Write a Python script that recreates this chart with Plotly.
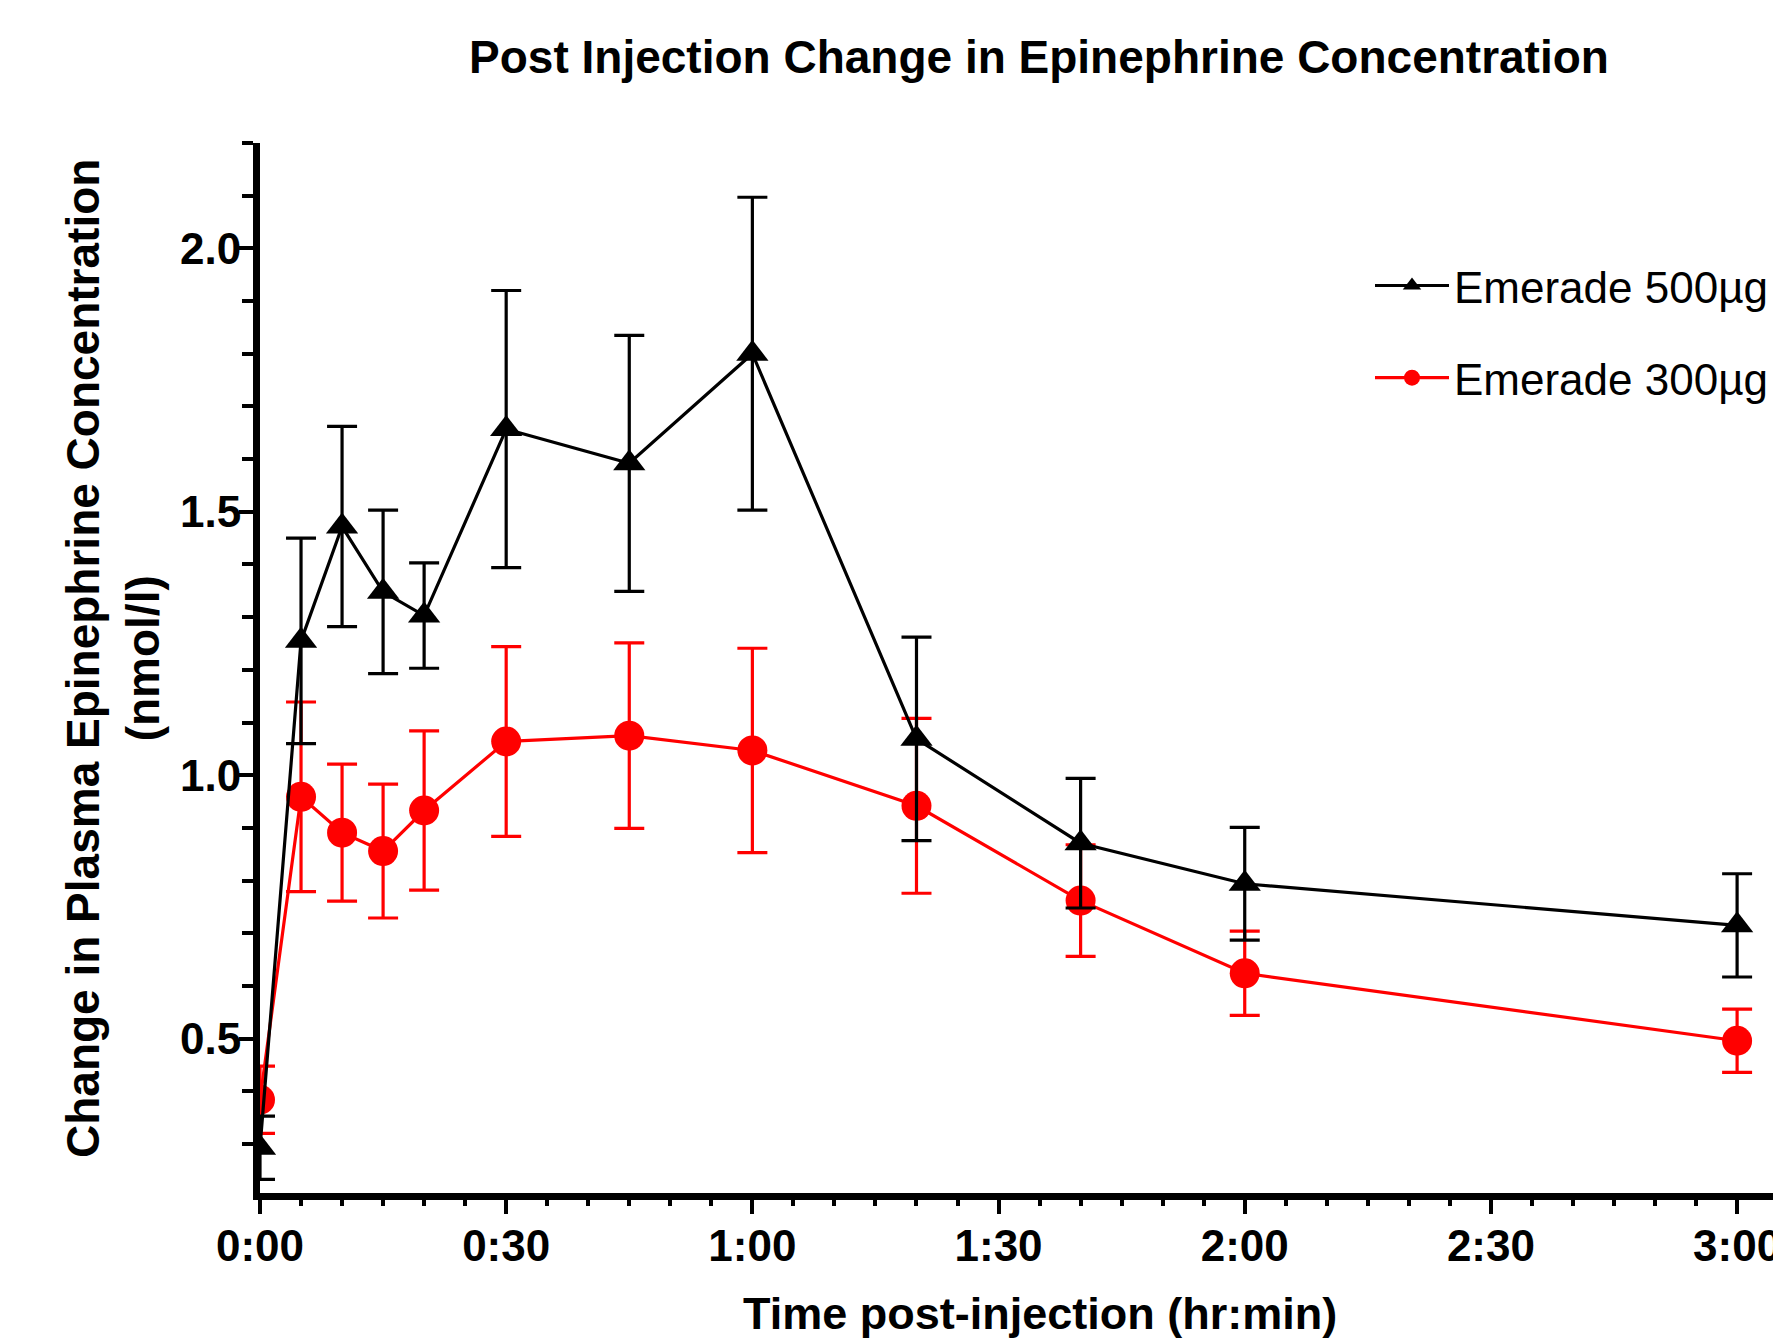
import plotly.graph_objects as go

# ---- data ----
time_min = [0, 5, 10, 15, 20, 30, 45, 60, 80, 100, 120, 180]
emerade_500 = [0.293, 1.255, 1.472, 1.348, 1.303, 1.657, 1.592, 1.800, 1.069, 0.871, 0.794, 0.715]
emerade_500_err = [0.060, 0.195, 0.190, 0.155, 0.100, 0.263, 0.243, 0.297, 0.193, 0.123, 0.107, 0.098]
emerade_300 = [0.384, 0.959, 0.891, 0.856, 0.933, 1.064, 1.075, 1.047, 0.942, 0.762, 0.624, 0.496]
emerade_300_err = [0.064, 0.180, 0.130, 0.127, 0.151, 0.180, 0.176, 0.194, 0.166, 0.106, 0.080, 0.060]

x_tick_vals = [0, 30, 60, 90, 120, 150, 180]
x_tick_text = ["0:00", "0:30", "1:00", "1:30", "2:00", "2:30", "3:00"]
y_tick_vals = [0.5, 1.0, 1.5, 2.0]
y_tick_text = ["0.5", "1.0", "1.5", "2.0"]

FONT = "Liberation Sans, Arial, sans-serif"
OFF = 8  # default page body margin
W, H = 1781 - OFF, 1341 - OFF
ML = 252
MT = 134.5
MB = H - 1185.5
MR = 0
plot_w = W - ML - MR
plot_h = H - MT - MB

fig = go.Figure()

fig.add_trace(go.Scatter(
    x=time_min, y=emerade_300, name="Emerade 300µg",
    mode="lines+markers",
    line=dict(color="#ff0000", width=3.2),
    marker=dict(symbol="circle", size=30, color="#ff0000"),
    error_y=dict(type="data", array=emerade_300_err, visible=True,
                 color="#ff0000", thickness=3.2, width=15),
    legendrank=2, legendgroup="b",
))
fig.add_trace(go.Scatter(
    x=time_min, y=emerade_500, name="Emerade 500µg",
    mode="lines+markers",
    line=dict(color="#000000", width=3.2),
    marker=dict(symbol="triangle-up", size=28, color="#000000"),
    error_y=dict(type="data", array=emerade_500_err, visible=True,
                 color="#000000", thickness=3.2, width=15),
    legendrank=1, legendgroup="a",
))


def px_x(page_x):
    return (page_x - OFF - ML) / plot_w


def px_y(page_y):
    return (H - MB - (page_y - OFF)) / plot_h


fig.update_layout(
    width=W, height=H,
    margin=dict(l=ML, r=MR, t=MT, b=MB, pad=0),
    plot_bgcolor="white", paper_bgcolor="white",
    font=dict(family=FONT, color="black"),
    title=dict(
        text="Post Injection Change in Epinephrine Concentration",
        font=dict(family=FONT, size=46, color="black", weight="bold"),
        x=(1039 - OFF) / W, xref="container", xanchor="center",
        y=1 - (57 - OFF) / H, yref="container", yanchor="middle",
    ),
    showlegend=True,
    legend=dict(
        x=px_x(1370), xanchor="left",
        y=px_y(250), yanchor="top",
        font=dict(family=FONT, size=44, color="black"),
        bgcolor="rgba(0,0,0,0)",
        tracegroupgap=32,
        traceorder="grouped",
        itemwidth=74,
    ),
    xaxis=dict(
        range=[0, 185.35],
        showgrid=False, zeroline=False,
        showline=True, linecolor="black", linewidth=7,
        tickmode="array", tickvals=x_tick_vals, ticktext=x_tick_text,
        ticks="outside", ticklen=14, tickwidth=4, tickcolor="black",
        ticklabelstandoff=-6, ticklabeloverflow="allow",
        tickfont=dict(family=FONT, size=44, color="black", weight="bold"),
        minor=dict(tickmode="linear", tick0=0, dtick=5, ticks="outside",
                   ticklen=6, tickwidth=4, tickcolor="black", showgrid=False),
    ),
    yaxis=dict(
        range=[0.207, 2.2],
        showgrid=False, zeroline=False,
        showline=True, linecolor="black", linewidth=7,
        tickmode="array", tickvals=y_tick_vals, ticktext=y_tick_text,
        ticks="outside", ticklen=14, tickwidth=4, tickcolor="black",
        ticklabelstandoff=-11,
        tickfont=dict(family=FONT, size=44, color="black", weight="bold"),
        minor=dict(tickmode="linear", tick0=0.2, dtick=0.1, ticks="outside",
                   ticklen=11, tickwidth=4, tickcolor="black", showgrid=False),
    ),
    annotations=[
        dict(text="Time post-injection (hr:min)",
             xref="paper", yref="paper",
             x=px_x(1040), y=px_y(1314),
             xanchor="center", yanchor="middle", showarrow=False,
             font=dict(family=FONT, size=45, color="black", weight="bold")),
        dict(text="Change in Plasma Epinephrine Concentration<br>(nmol/l)",
             xref="paper", yref="paper",
             x=px_x(113), y=px_y(659),
             xanchor="center", yanchor="middle", showarrow=False,
             textangle=-90,
             font=dict(family=FONT, size=46, color="black", weight="bold")),
    ],
)

fig.write_html("out.html")
